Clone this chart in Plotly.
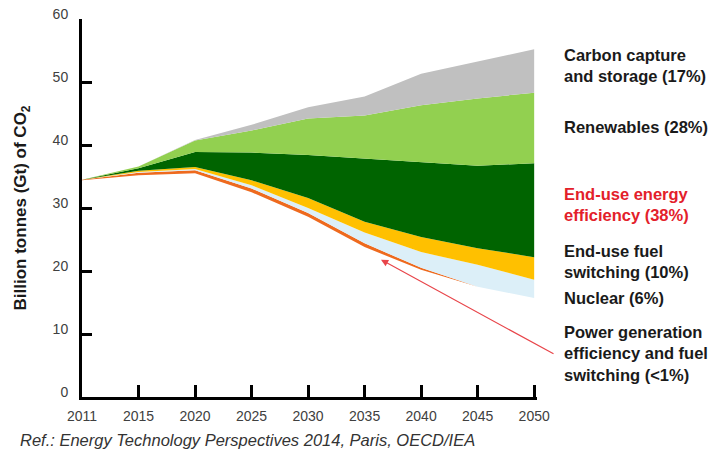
import plotly.graph_objects as go

years = ["2011", "2015", "2020", "2025", "2030", "2035", "2040", "2045", "2050"]
# 2DS emission pathway (bottom of the wedges), Gt CO2
base_2ds = [34.4, 35.2, 35.5, 32.5, 28.6, 23.8, 20.2, 17.5, 15.7]
# Reduction wedges, Gt CO2 (stacked on top of the 2DS pathway)
power_gen = [0.1, 0.4, 0.5, 0.6, 0.6, 0.6, 0.3, 0.0, 0.0]
nuclear = [0.0, 0.1, 0.2, 0.5, 0.8, 1.7, 2.5, 3.5, 2.9]
fuel_switching = [0.0, 0.2, 0.3, 0.8, 1.6, 1.7, 2.4, 2.6, 3.6]
efficiency = [0.0, 0.4, 2.4, 4.4, 6.8, 10.0, 11.9, 13.1, 14.9]
renewables = [0.0, 0.3, 1.8, 3.5, 5.8, 6.9, 9.0, 10.7, 11.2]
ccs = [0.0, 0.0, 0.1, 0.9, 1.8, 3.0, 5.0, 5.8, 6.9]

labels = [
    ("<b>Carbon capture<br>and storage (17%)</b>", 52.6, "#1a1a1a"),
    ("<b>Renewables (28%)</b>", 42.9, "#1a1a1a"),
    ("<b>End-use energy<br>efficiency (38%)</b>", 30.6, "#e3202a"),
    ("<b>End-use fuel<br>switching (10%)</b>", 21.5, "#1a1a1a"),
    ("<b>Nuclear (6%)</b>", 15.7, "#1a1a1a"),
    ("<b>Power generation<br>efficiency and fuel<br>switching (<1%)</b>", 6.9, "#1a1a1a"),
]

x = list(range(len(years)))
FONT = "Liberation Sans, Arial, sans-serif"

fig = go.Figure()
series = [
    (base_2ds, "rgba(0,0,0,0)"),
    (power_gen, "#ee6a1e"),
    (nuclear, "#dcefF8"),
    (fuel_switching, "#ffc000"),
    (efficiency, "#006400"),
    (renewables, "#92d050"),
    (ccs, "#c0c0c0"),
]
for vals, col in series:
    fig.add_trace(go.Scatter(
        x=x, y=vals, stackgroup="s", mode="lines",
        line=dict(width=0), fillcolor=col, hoverinfo="skip", showlegend=False,
    ))

for txt, yv, col in labels:
    fig.add_annotation(
        x=1.055, xref="paper", y=yv, yref="y", text=txt, showarrow=False,
        xanchor="left", yanchor="middle", align="left",
        font=dict(family=FONT, size=16.5, color=col),
    )

# arrow pointing to the power generation wedge
fig.add_annotation(
    x=5.29, y=21.8, xref="x", yref="y", ax=174, ay=95, text="",
    showarrow=True, arrowhead=2, arrowsize=1.2, arrowwidth=1.2, arrowcolor="#e8454a",
)

fig.add_annotation(
    x=-0.141, xref="paper", y=-0.115, yref="paper",
    text="<i>Ref.: Energy Technology Perspectives 2014, Paris, OECD/IEA</i>",
    showarrow=False, xanchor="left", yanchor="middle",
    font=dict(family=FONT, size=16.5, color="#333333"),
)

fig.update_layout(
    width=709, height=451,
    margin=dict(l=82, r=172, t=19, b=54),
    paper_bgcolor="white", plot_bgcolor="white",
    font=dict(family=FONT, color="#404040"),
)
fig.update_xaxes(
    range=[0, 8.05], tickvals=x, ticktext=years, showgrid=False, zeroline=False,
    showline=True, linecolor="black", linewidth=3, ticks="inside", ticklen=12,
    tickwidth=2.5, tickcolor="black", tickfont=dict(size=14, color="#404040"),
    ticklabelstandoff=4, automargin=False,
)
fig.update_yaxes(
    range=[0, 60], tickvals=[0, 10, 20, 30, 40, 50, 60], showgrid=False, zeroline=False,
    showline=True, linecolor="black", linewidth=3, ticks="inside", ticklen=10,
    tickwidth=2.5, tickcolor="black", tickfont=dict(size=14, color="#404040"),
    ticklabelshift=-5, ticklabelstandoff=8, automargin=False,
    title=dict(text="<b>Billion tonnes (Gt) of CO<sub>2</sub></b>",
               font=dict(family=FONT, size=17, color="#1a1a1a"), standoff=22),
)

fig.write_html("out.html")
